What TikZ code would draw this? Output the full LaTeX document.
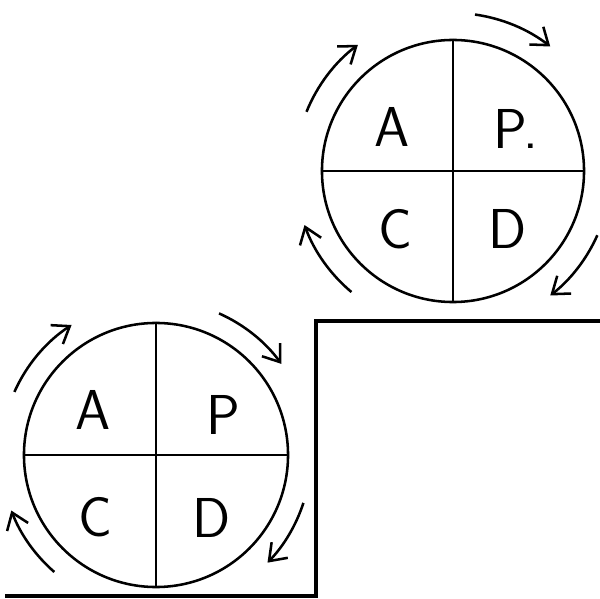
\documentclass[tikz,border=0pt]{standalone}
\usepackage{tikz}
\usetikzlibrary{arrows.meta}

\begin{document}
\begin{tikzpicture}[x=0.025cm, y=0.025cm, line width=1.8pt,
    >={Straight Barb[length=11pt,width=16pt]},
    wheel/.style={circle, draw, inner sep=0pt, minimum size=6.55cm},
    letter/.style={font=\sffamily\fontsize{40}{40}\selectfont}]
  \useasboundingbox (0,0) rectangle (600,599);
  % steps
  \draw[line width=2.6pt] (5,3) -- (316,3) -- (316,278) -- (600,278);
  % upper wheel
  \node[wheel] (pu) at (453,428) {};
  \draw (pu.north) -- (pu.south);
  \draw (pu.west) -- (pu.east);
  \node[letter] (ua) at (392,472) {A};
  \node[letter] (up) at (516,470) {P.};
  \node[letter] (uc) at (395,370) {C};
  \node[letter] (ud) at (508,370) {D};
  \foreach \a/\b in {158/127, 82/52, -24/-52, -130/-160}
    \draw[->] (pu.center) ++(\a:158) arc[start angle=\a, end angle=\b, radius=158];
  % lower wheel
  \node[wheel, minimum size=6.6cm] (pl) at (156,144) {};
  \draw (pl.north) -- (pl.south);
  \draw (pl.west) -- (pl.east);
  \node[letter] (la) at (93,189) {A};
  \node[letter] (lp) at (223,184) {P};
  \node[letter] (lc) at (95,82) {C};
  \node[letter] (ld) at (212,81) {D};
  \foreach \a/\b in {156/123, 66/36, -18/-44, -131/-159}
    \draw[->] (pl.center) ++(\a:155) arc[start angle=\a, end angle=\b, radius=155];
\end{tikzpicture}
\end{document}
